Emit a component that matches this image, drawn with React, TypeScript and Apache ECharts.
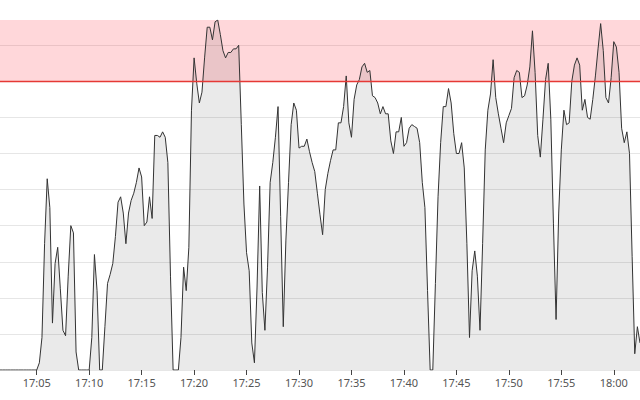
import React, { useEffect, useRef } from "react";
import * as echarts from "echarts";

// Samples every 15 s, starting 17:01:30
const startTime = "2024-01-01T17:01:30";
const stepSeconds = 15;
const values: number[] = [
  0, 0,
  0, 0, 0, 0, // 17:02
  0, 0, 0, 0, // 17:03
  0, 0, 0, 0, // 17:04
  0, 4, 18, 70, // 17:05
  106, 90, 26, 59, // 17:06
  68, 45, 22, 19, // 17:07
  52, 80, 76, 10, // 17:08
  0, 0, 0, 0, // 17:09
  0, 18, 64, 44, // 17:10
  0, 0, 24, 48, // 17:11
  53, 59, 74, 93, // 17:12
  96, 87, 70, 87, // 17:13
  94, 98, 104, 112, // 17:14
  107, 80, 82, 96, // 17:15
  84, 130, 130, 129, // 17:16
  132, 129, 115, 52, // 17:17
  0, 0, 0, 18, // 17:18
  57, 44, 68, 144, // 17:19
  173, 159, 148, 154, // 17:20
  173, 190, 190, 183, // 17:21
  193, 194, 186, 177, // 17:22
  173, 176, 176, 178, // 17:23
  178, 180, 136, 92, // 17:24
  65, 55, 15, 4, // 17:25
  46, 102, 43, 22, // 17:26
  57, 104, 115, 129, // 17:27
  146, 85, 24, 72, // 17:28
  104, 136, 148, 144, // 17:29
  123, 124, 124, 128, // 17:30
  121, 115, 110, 98, // 17:31
  86, 75, 100, 109, // 17:32
  116, 122, 122, 137, // 17:33
  137, 146, 163, 137, // 17:34
  129, 150, 158, 161, // 17:35
  168, 170, 165, 166, // 17:36
  152, 151, 148, 142, // 17:37
  146, 142, 142, 127, // 17:38
  120, 132, 132, 140, // 17:39
  124, 126, 134, 136, // 17:40
  135, 134, 126, 104, // 17:41
  90, 44, 0, 0, // 17:42
  48, 96, 126, 146, // 17:43
  146, 156, 148, 131, // 17:44
  120, 120, 126, 112, // 17:45
  70, 18, 55, 66, // 17:46
  52, 22, 70, 122, // 17:47
  144, 153, 172, 151, // 17:48
  142, 134, 126, 137, // 17:49
  141, 145, 162, 166, // 17:50
  165, 151, 152, 158, // 17:51
  168, 188, 165, 130, // 17:52
  118, 139, 161, 170, // 17:53
  139, 81, 28, 87, // 17:54
  122, 144, 136, 137, // 17:55
  160, 169, 173, 169, // 17:56
  144, 150, 140, 139, // 17:57
  150, 163, 178, 192, // 17:58
  177, 151, 148, 162, // 17:59
  182, 179, 165, 134, // 18:00
  126, 132, 120, 63, // 18:01
  9, 24, 15, // 18:02
];

const threshold = 160;
const yMax = 194;
const yInterval = 20;

export default function App() {
  const ref = useRef<HTMLDivElement>(null);
  useEffect(() => {
    if (!ref.current) return;
    const chart = echarts.init(ref.current, undefined, { renderer: "svg" });
    const t0 = new Date(startTime).getTime();
    const data = values.map((v, i) => [t0 + i * stepSeconds * 1000, v]);
    const tEnd = t0 + (values.length - 1) * stepSeconds * 1000;
    const redLine = { color: "#e53935", width: 1.3, type: "solid" as const };
    chart.setOption({
      animation: false,
      grid: { left: 0, right: 0, top: 20, bottom: 30 },
      xAxis: {
        type: "time",
        min: t0,
        max: tEnd,
        splitNumber: 12,
        axisLine: { show: false },
        axisTick: { show: true, length: 5, lineStyle: { color: "#444" } },
        axisLabel: {
          formatter: "{HH}:{mm}",
          color: "#555",
          fontSize: 11,
          fontFamily: "Noto Sans",
          margin: 7,
          showMinLabel: false,
          showMaxLabel: false,
        },
        splitLine: { show: false },
      },
      yAxis: {
        type: "value",
        min: 0,
        max: yMax,
        interval: yInterval,
        axisLabel: { show: false },
        axisLine: { show: false },
        axisTick: { show: false },
        splitLine: { show: true, showMaxLine: false, lineStyle: { color: "#e6e6e6", width: 1 } },
      },
      series: [
        {
          type: "line",
          data,
          showSymbol: false,
          smooth: false,
          z: 2,
          lineStyle: { color: "#333", width: 1 },
          areaStyle: { color: "rgba(0,0,0,0.115)" },
          markArea: {
            silent: true,
            itemStyle: { color: "rgba(255,40,60,0.19)" },
            data: [[{ yAxis: threshold }, { yAxis: yMax }]],
          },
        },
        {
          type: "line",
          data: [],
          z: 5,
          markLine: {
            silent: true,
            symbol: "none",
            label: { show: false },
            itemStyle: { color: redLine.color },
            lineStyle: redLine,
            emphasis: { disabled: true },
            data: [{ yAxis: threshold, lineStyle: redLine }],
          },
        },
      ],
    });
    return () => chart.dispose();
  }, []);
  return (
    <div
      ref={ref}
      style={{ position: "absolute", left: 0, top: 0, width: 640, height: 400 }}
    />
  );
}
